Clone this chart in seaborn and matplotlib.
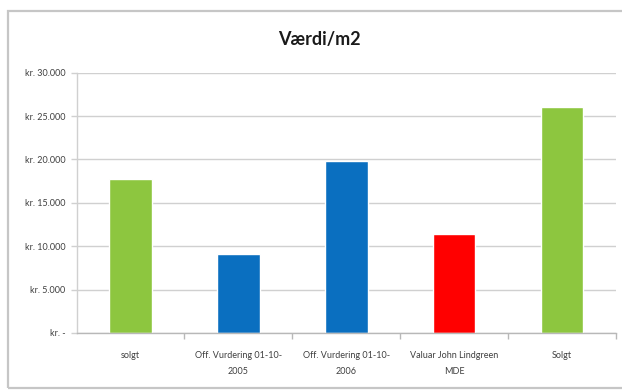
import matplotlib
matplotlib.use("Agg")
import matplotlib.pyplot as plt
from matplotlib.patches import Rectangle
from matplotlib.ticker import FixedLocator
import seaborn as sns
import pandas as pd

categories = [
    "solgt",
    "Off. Vurdering 01-10-\n2005",
    "Off. Vurdering 01-10-\n2006",
    "Valuar John Lindgreen\nMDE",
    "Solgt",
]
values = [17800, 9100, 19850, 11400, 26000]
bar_colors = ["#8DC63F", "#0A6FC0", "#0A6FC0", "#FF0000", "#8DC63F"]
y_ticks = [0, 5000, 10000, 15000, 20000, 25000, 30000]
y_tick_labels = ["kr. -", "kr. 5.000", "kr. 10.000", "kr. 15.000",
                 "kr. 20.000", "kr. 25.000", "kr. 30.000"]

df = pd.DataFrame({"kategori": categories, "vaerdi": values})

sns.set_theme(style="white")
plt.rcParams["font.family"] = ["Lato", "DejaVu Sans"]

W, H = 622, 390
fig = plt.figure(figsize=(W / 100, H / 100), dpi=100)
fig.patch.set_facecolor("white")

# outer chart frame (runs past the right edge)
fig.add_artist(Rectangle((8 / W, 1 - 388 / H), (W + 10) / W, (388 - 11) / H,
                         transform=fig.transFigure, fill=False,
                         edgecolor="#c6c6c6", linewidth=1.6))

ax = fig.add_axes([76.6 / W, 1 - 333 / H, (616 - 76.6) / W, (333 - 72.7) / H])
sns.barplot(data=df, x="kategori", y="vaerdi", hue="kategori",
            palette=bar_colors, width=0.395, saturation=1, legend=False, ax=ax)

ax.set_ylim(0, 30000)
ax.set_xlim(-0.5, 4.5)
ax.set_yticks(y_ticks)
ax.set_yticklabels(y_tick_labels)
ax.set_xlabel("")
ax.set_ylabel("")
ax.yaxis.grid(True, color="#d0d0d0", linewidth=1.0)
ax.set_axisbelow(True)

for side in ("top", "right"):
    ax.spines[side].set_visible(False)
ax.spines["left"].set_color("#d0d0d0")
ax.spines["bottom"].set_color("#b8b8b8")
ax.spines["left"].set_linewidth(1.0)
ax.spines["bottom"].set_linewidth(1.0)

ax.tick_params(axis="y", which="major", length=4, width=1.0, color="#d0d0d0",
               labelsize=6.5, labelcolor="#404040", pad=4, left=True)
ax.tick_params(axis="x", which="major", length=0, labelsize=6.5,
               labelcolor="#404040", pad=13)
ax.xaxis.set_minor_locator(FixedLocator([0.5, 1.5, 2.5, 3.5, 4.5]))
ax.tick_params(axis="x", which="minor", length=4, width=1.0, color="#b8b8b8",
               bottom=True)
for lbl in ax.get_xticklabels():
    lbl.set_linespacing(2.0)

fig.text(319 / W, 1 - 40 / H, "Værdi/m2", ha="center", va="center",
         fontsize=13, color="#1a1a1a", fontweight="bold")

fig.savefig("out.png", dpi=100)
